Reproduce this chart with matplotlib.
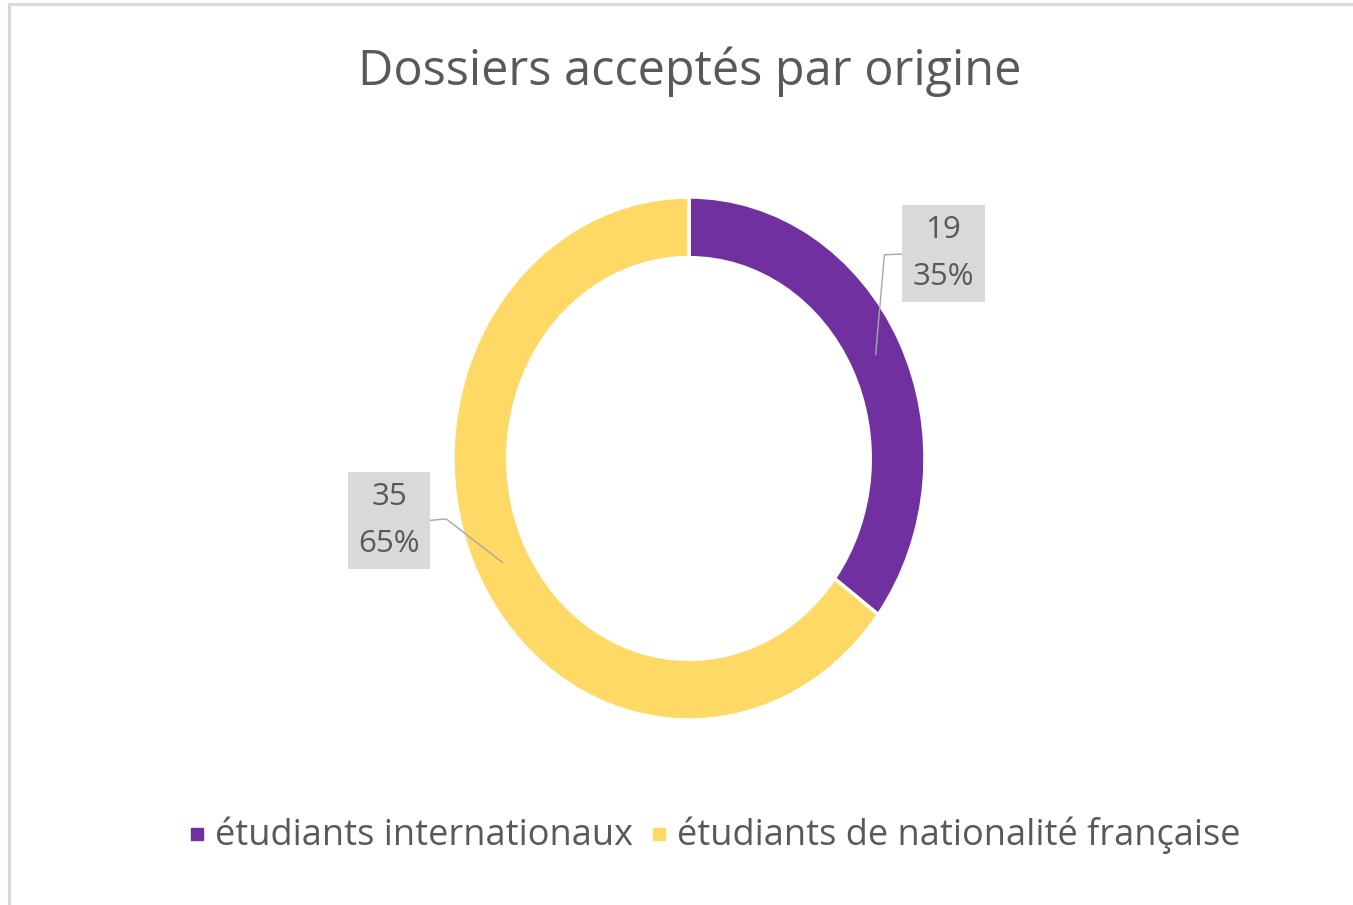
import matplotlib
matplotlib.use("Agg")
import matplotlib.pyplot as plt
import numpy as np
from matplotlib.lines import Line2D

# ---- data ----
categories = ["étudiants internationaux", "étudiants de nationalité française"]
values = [19, 35]
colors = ["#7030A0", "#FFD966"]
title = "Dossiers acceptés par origine"

W, H = 1353, 905
fig = plt.figure(figsize=(W / 100, H / 100), dpi=100)
fig.patch.set_facecolor("white")
plt.rcParams['font.family'] = ['Open Sans', 'DejaVu Sans']
txt_color = "#595959"

# frame (left and top borders visible)
fig.add_artist(Line2D([9 / W, 9 / W], [0, 1 - 4 / H], transform=fig.transFigure,
                      color="#d9d9d9", lw=2.2))
fig.add_artist(Line2D([9 / W, 1], [1 - 4 / H, 1 - 4 / H], transform=fig.transFigure,
                      color="#d9d9d9", lw=2.2))

# donut axes (slightly taller than wide, as in reference)
cx, cy = 689, 458.5
rx, ry = 236, 261.5
ax = fig.add_axes([(cx - 1.25 * rx) / W, (H - cy - 1.25 * ry) / H,
                   2.5 * rx / W, 2.5 * ry / H])
wedges, _ = ax.pie(values, colors=colors, startangle=90, counterclock=False,
                   radius=1.0,
                   wedgeprops=dict(width=0.232, edgecolor="white", linewidth=2.5))
ax.set_aspect('auto')
ax.set_xlim(-1.25, 1.25)
ax.set_ylim(-1.25, 1.25)
ax.axis('off')

total = sum(values)
box_pos = [(1.078, 0.784), (-1.271, -0.237)]
for w, v, (bx, by) in zip(wedges, values, box_pos):
    mid = np.deg2rad((w.theta1 + w.theta2) / 2)
    ax0, ay0 = 0.885 * np.cos(mid), 0.885 * np.sin(mid)
    pct = round(100 * v / total)
    side = 1 if bx > 0 else -1
    edge_x = bx - side * 0.17
    if side > 0:
        elbow = (edge_x - 0.08, by - 0.005)
    else:
        elbow = (edge_x + 0.072, by + 0.006)
    ax.plot([ax0, elbow[0], edge_x], [ay0, elbow[1], by + (0.0 if side < 0 else -0.002)],
            color="#a6a6a6", lw=1.0, clip_on=False)
    ax.text(bx, by, f"{v}\n{pct}%", ha="center", va="center", fontsize=22.5,
            color=txt_color, linespacing=1.72, clip_on=False,
            bbox=dict(boxstyle="square,pad=0.34", fc="#d9d9d9", ec="none"))

# title fitted to reference width
t = fig.text(689.5 / W, 1 - 72 / H, title, ha="center", va="center",
             fontsize=34, color=txt_color)
fig.canvas.draw()
r = fig.canvas.get_renderer()
wpx = t.get_window_extent(r).width
t.set_fontsize(34 * 665 / wpx)

# legend
handles = [Line2D([], [], marker="s", linestyle="none", markersize=8.5,
                  markerfacecolor=c, markeredgecolor=c) for c in colors]
leg = fig.legend(handles, categories, loc="center", bbox_to_anchor=(715 / W, 1 - 835 / H),
                 ncol=2, frameon=False, fontsize=22, handlelength=0.5,
                 handletextpad=0.35, columnspacing=0.6, labelcolor=txt_color)
fig.canvas.draw()
lt = leg.get_texts()[0]
lw = lt.get_window_extent(r).width
fs = 22 * 416 / lw
for tt in leg.get_texts():
    tt.set_fontsize(fs)

fig.savefig("out.png", dpi=100, facecolor="white")
